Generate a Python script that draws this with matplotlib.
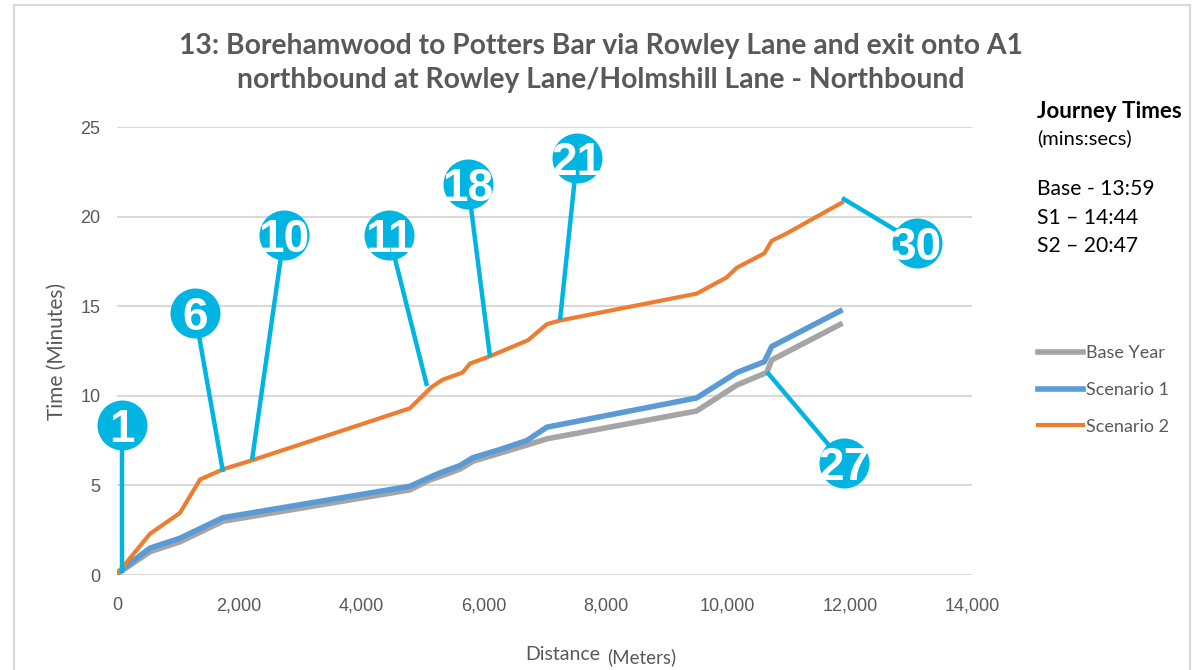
import matplotlib
matplotlib.use('Agg')
from matplotlib import pyplot as plt
from matplotlib.patches import Rectangle

# journey time profiles (distance in m, time in minutes)
dist_base = [0, 540, 1030, 1735, 4795, 5120, 5290, 5610, 5830, 6270, 6710, 7040, 9490, 10150, 10640, 10720, 11840]
time_base = [0.05, 1.3, 1.85, 3.0, 4.75, 5.3, 5.5, 5.9, 6.35, 6.8, 7.25, 7.6, 9.15, 10.6, 11.3, 12.0, 13.98]

dist_s1 = [0, 540, 1030, 1735, 4795, 5120, 5290, 5610, 5830, 6270, 6710, 7040, 9490, 10150, 10600, 10720, 11840]
time_s1 = [0.1, 1.5, 2.05, 3.2, 4.95, 5.45, 5.7, 6.1, 6.55, 7.0, 7.5, 8.25, 9.88, 11.3, 11.9, 12.75, 14.73]

dist_s2 = [0, 540, 1030, 1360, 1735, 2210, 4795, 5155, 5335, 5660, 5780, 6100, 6730, 7040, 7250, 9490, 9980, 10150, 10600, 10720, 10960, 11870]
time_s2 = [0.05, 2.3, 3.46, 5.33, 5.9, 6.4, 9.3, 10.5, 10.9, 11.3, 11.8, 12.2, 13.1, 14.0, 14.2, 15.7, 16.6, 17.15, 17.95, 18.65, 19.05, 20.78]

series_names = ['Base Year', 'Scenario 1', 'Scenario 2']

# numbered callouts: label, point on route, bubble position
callout_labels = ['1', '6', '10', '11', '18', '21', '30', '27']
callout_px = [82, 1736, 2211, 5076, 6108, 7254, 11872, 10643]
callout_py = [0.1, 5.75, 6.42, 10.55, 12.17, 14.23, 21.04, 11.33]
callout_bx = [82, 1277, 2735, 4454, 5747, 7532, 13100, 11904]
callout_by = [8.37, 14.62, 18.97, 18.97, 21.82, 23.27, 18.53, 6.25]

journey_lines = ['Base - 13:59', 'S1 \u2013 14:44', 'S2 \u2013 20:47']

c_base, c_s1, c_s2 = '#A5A5A5', '#5B9BD5', '#ED7D31'
c_call = '#00B5E2'
c_txt = '#595959'
F = ['Lato', 'DejaVu Sans']
FN = ['Liberation Sans Narrow', 'Liberation Sans', 'DejaVu Sans']

fig = plt.figure(figsize=(11.98, 6.70), dpi=100)
fig.patches.append(Rectangle((14/1198, -0.1), (1190-14)/1198, 1.1 - 5/670, transform=fig.transFigure,
                             fill=False, edgecolor='#D9D9D9', lw=1.5))

ax = fig.add_axes([117/1198, 95/670, 855/1198, 448/670])
ax.set_xlim(0, 14000)
ax.set_ylim(0, 25)
ax.set_xticks(range(0, 14001, 2000))
ax.set_xticklabels(['{:,}'.format(v) for v in range(0, 14001, 2000)], family=FN, fontsize=13, color=c_txt)
ax.set_yticks(range(0, 26, 5))
ax.set_yticklabels([str(v) for v in range(0, 26, 5)], family=FN, fontsize=13, color=c_txt)
ax.tick_params(length=0, pad=12)
ax.tick_params(axis='x', pad=16)
for s in ax.spines.values():
    s.set_visible(False)
ax.grid(axis='y', color='#D9D9D9', lw=1.5)
ax.set_axisbelow(True)

ax.plot(dist_base, time_base, color=c_base, lw=4, label=series_names[0], zorder=3)
ax.plot(dist_s1, time_s1, color=c_s1, lw=4, label=series_names[1], zorder=4)
ax.plot(dist_s2, time_s2, color=c_s2, lw=3, label=series_names[2], zorder=5)

for lab, px, py, bx, by in zip(callout_labels, callout_px, callout_py, callout_bx, callout_by):
    ax.plot([px, bx], [py, by], color=c_call, lw=3.2, solid_capstyle='butt', zorder=6, clip_on=False)
    ax.plot([bx], [by], marker='o', ms=36, color=c_call, mec='none', zorder=7, clip_on=False)
    ax.text(bx, by, lab, color='white', fontsize=33, fontweight='bold', family=['Liberation Sans', 'DejaVu Sans'],
            ha='center', va='center_baseline', zorder=8)

ax.set_ylabel('Time (Minutes)', family=F, fontsize=15, color=c_txt)
ax.yaxis.set_label_coords(-50/855, 0.5)
fig.text(600/1198, 15/670, 'Distance', family=F, fontsize=14, color=c_txt, ha='right', va='center')
fig.text(607/1198, 13/670, '(Meters)', family=F, fontsize=13.5, color=c_txt, ha='left', va='center')

fig.text(601/1198, 1 - 63/670,
         '13: Borehamwood to Potters Bar via Rowley Lane and exit onto A1\nnorthbound at Rowley Lane/Holmshill Lane - Northbound',
         family=F, fontsize=20.3, fontweight='bold', color=c_txt, ha='center', va='center', linespacing=1.35)

fig.text(1037/1198, 1 - 111/670, 'Journey Times', family=F, fontsize=16, fontweight='bold', color='black', va='center')
fig.text(1037/1198, 1 - 138/670, '(mins:secs)', family=F, fontsize=14.5, color='black', va='center')
for i, t in enumerate(journey_lines):
    fig.text(1037/1198, 1 - (189 + 28.5*i)/670, t, family=F, fontsize=15.2, color='black', va='center')

leg = fig.legend(loc='upper left', bbox_to_anchor=(1022/1198, 1 - 329/670), frameon=False,
                 prop={'family': F, 'size': 13}, handlelength=2.5, handletextpad=0.15, labelspacing=1.15)
for t in leg.get_texts():
    t.set_color(c_txt)

fig.savefig('out.png', dpi=100)
plt.close(fig)
